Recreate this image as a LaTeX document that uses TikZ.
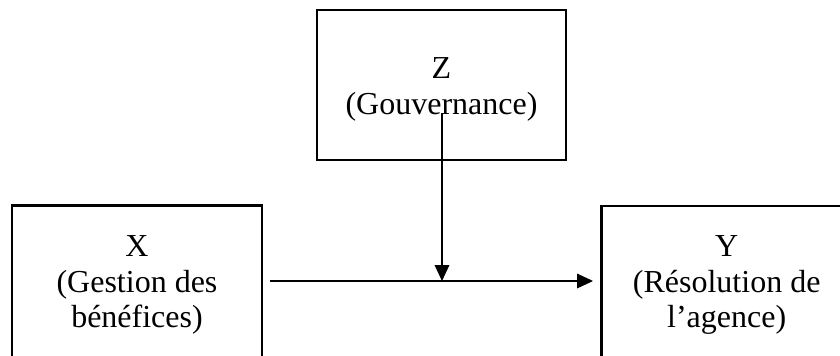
\documentclass[tikz,border=0pt]{standalone}
\usepackage{fontspec}
\setmainfont{Liberation Serif}
\usetikzlibrary{arrows.meta}
\begin{document}
\begin{tikzpicture}[x=0.75pt,y=-0.75pt,
  box/.style={draw, line width=1.9pt, rectangle, inner sep=0pt, outer sep=0pt},
  lbl/.style={align=center, inner sep=0pt, outer sep=0pt, font=\fontsize{24}{26.5}\selectfont},
  arr/.style={line width=0.9pt, -{Triangle[length=12pt,width=11pt]}}]
\useasboundingbox (0,0) rectangle (840,355);
\fill[white] (0,0) rectangle (840,355);
\clip (0,0) rectangle (840,355);
% boxes
\node[box, minimum width=186.75pt, minimum height=112.5pt] (Z) at (441.5,85) {};
\node[box, minimum width=187.5pt, minimum height=150pt] (X) at (137,305.7) {};
\node[box, minimum width=187.5pt, minimum height=150pt] (Y) at (726.7,306) {};
% labels
\node[lbl, anchor=north] (Zt) at (441.5,58) {Z\\(Gouvernance)};
\node[lbl, anchor=north] (Xt) at (137,236) {X\\(Gestion des\\bénéfices)};
\node[lbl, anchor=north] (Yt) at (726.7,236) {Y\\(Résolution de\\l’agence)};
% connectors
\coordinate (h) at (442,281);
\coordinate (zs) at (442,113);
\draw[arr] ([xshift=6pt]X.east |- h) -- ([xshift=-6.5pt]Y.west |- h);
\draw[arr] (zs) -- (h);
\end{tikzpicture}
\end{document}
